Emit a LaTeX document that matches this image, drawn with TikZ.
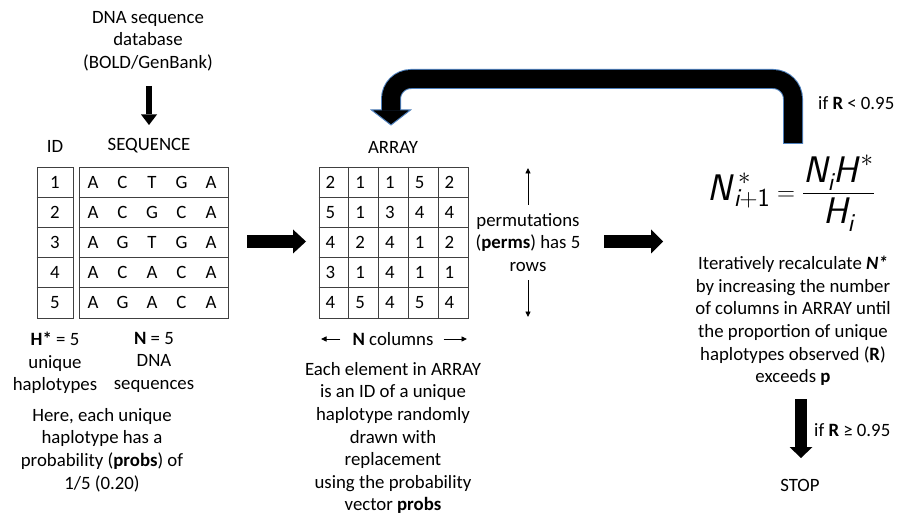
\documentclass[tikz,border=0pt]{standalone}
\usepackage{amsmath}
\usepackage{fontspec}
\setmainfont{Carlito}
\usetikzlibrary{arrows.meta,calc}
\definecolor{edgeblue}{RGB}{79,129,189}
\newcommand{\sfi}[1]{\text{\sffamily\itshape #1}}
\newcommand{\sfic}[1]{\text{\sffamily\itshape #1\/}}
\newcommand{\sfu}[1]{\text{\sffamily #1}}
\begin{document}
\begin{tikzpicture}[x=1pt,y=-1pt,
  txt/.style={font=\fontsize{18.8}{22.6}\selectfont, inner sep=0pt, align=center},
  cell/.style={font=\fontsize{18.8}{22.6}\selectfont, inner sep=0pt},
  gridline/.style={draw=black!75, line width=0.9pt},
  frame/.style={gridline, inner sep=0pt},
  thinarrow/.style={line width=0.9pt, -{Triangle[length=5.5pt,width=5pt]}},
  shaft/.style={draw=black, line cap=butt}
]
\useasboundingbox (0,0) rectangle (898,516);

% ---------- source text and top arrow ----------
\node[txt, anchor=north] (db) at (148,11) {DNA sequence\\database\\(BOLD/GenBank)};
\coordinate (dA) at (149,86);
\coordinate (dT) at (149,125);
\draw[shaft, line width=6.3] (dA) -- ($(dT)+(0,-10.5)$);
\fill (dT) -- ++(-8,-10.5) -- ++(16,0) -- cycle;

% ---------- ID table ----------
\node[cell] (idlab) at (55,146) {ID};
\node[frame, minimum width=36pt, minimum height=151pt] (idtab) at (55,242.5) {};
\foreach \k in {1,...,4} \draw[gridline] (idtab.west |- 0,{167+30.2*\k}) -- (idtab.east |- 0,{167+30.2*\k});
\foreach \v [count=\i] in {1,...,5} \node[cell] (id\i) at (55,{151.9+30.2*\i}) {\v};

% ---------- sequence table ----------
\node[cell] (seqlab) at (149,146) {SEQUENCE};
\node[frame, minimum width=149pt, minimum height=151pt] (seqtab) at (153.5,242.5) {};
\foreach \k in {1,...,4} \draw[gridline] (seqtab.west |- 0,{167+30.2*\k}) -- (seqtab.east |- 0,{167+30.2*\k});
\foreach \row [count=\r] in {{A,C,T,G,A},{A,C,G,C,A},{A,G,T,G,A},{A,C,A,C,A},{A,G,A,C,A}}{
  \foreach \l [count=\c] in \row {
    \node[cell] (s\r-\c) at ({63.5+29.5*\c},{151.9+30.2*\r}) {\l};
  }
}

% ---------- notes under tables ----------
\node[txt, anchor=north] (hstar) at (55,332) {\textbf{H*} = 5\\unique\\haplotypes};
\node[txt, anchor=north] (nseq) at (154,332) {\textbf{N} = 5\\DNA\\sequences};
\node[txt, anchor=north] (probs) at (102,408) {Here, each unique\\haplotype has a\\probability (\textbf{probs}) of\\1/5 (0.20)};

% ---------- arrow 1 ----------
\coordinate (r1s) at (247,241.5);
\coordinate (r1t) at (306,241.5);
\draw[shaft, line width=13] (r1s) -- ($(r1t)+(-12.5,0)$);
\fill (r1t) -- ++(-13,-12) -- ++(0,24) -- cycle;

% ---------- ARRAY ----------
\node[cell] (arrlab) at (393,147) {ARRAY};
\node[frame, minimum width=149pt, minimum height=151pt] (arrtab) at (393.5,242.5) {};
\foreach \k in {1,...,4} {
  \draw[gridline] (arrtab.west |- 0,{167+30.2*\k}) -- (arrtab.east |- 0,{167+30.2*\k});
  \draw[gridline] ({319+29.8*\k},0 |- arrtab.north) -- ({319+29.8*\k},0 |- arrtab.south);
}
\foreach \row [count=\r] in {{2,1,1,5,2},{5,1,3,4,4},{4,2,4,1,2},{3,1,4,1,1},{4,5,4,5,4}}{
  \foreach \v [count=\c] in \row {
    \node[cell] (a\r-\c) at ({300.5+29.8*\c},{151.9+30.2*\r}) {\v};
  }
}
\node[cell] (ncol) at (393,339) {\textbf{N} columns};
\coordinate (nL) at (321,339);
\coordinate (nR) at (467,339);
\draw[thinarrow] ([xshift=-12pt]ncol.west) -- (nL);
\draw[thinarrow] ([xshift=10pt]ncol.east) -- (nR);

\node[txt, anchor=north] (perms) at (528,213) {permutations\\(\textbf{perms}) has 5\\rows};
\coordinate (pU0) at (528,205);
\coordinate (pU) at (528,168);
\coordinate (pD0) at (528,280);
\coordinate (pD) at (528,317);
\draw[thinarrow] (pU0) -- (pU);
\draw[thinarrow] (pD0) -- (pD);

\node[txt, anchor=north] (elem) at (393,362) {Each element in ARRAY\\is an ID of a unique\\haplotype randomly\\drawn with\\replacement\\using the probability\\vector \textbf{probs}};

% ---------- arrow 2 ----------
\coordinate (r2s) at (604,241.5);
\coordinate (r2t) at (663,241.5);
\draw[shaft, line width=13] (r2s) -- ($(r2t)+(-11.5,0)$);
\fill (r2t) -- ++(-12,-12) -- ++(0,24) -- cycle;

% ---------- formula and text ----------
\node[inner sep=0pt, font=\fontsize{37}{44}\selectfont] (form) at (791,193)
  {$\sfic{N}^{\,*}_{\sfi{i}+\sfu{1}} = \dfrac{\sfi{N}_{\sfi{i}}\sfic{H}^{*}}{\sfi{H}_{\sfi{i}}}$};
\node[txt, anchor=north] (iter) at (793,256) {Iteratively recalculate \textbf{\textit{N*}}\\by increasing the number\\of columns in ARRAY until\\the proportion of unique\\haplotypes observed (\textbf{R})\\exceeds \textbf{p}};

\node[cell, anchor=west] (ifless) at (818,103) {if \textbf{R} < 0.95};
\node[cell, anchor=west] (ifge) at (814,430) {if \textbf{R} ≥ 0.95};
\node[cell] (stop) at (800,485) {STOP};

% ---------- down arrow to STOP ----------
\coordinate (bA) at (801,399);
\coordinate (bT) at (801,458);
\draw[shaft, line width=12] (bA) -- ($(bT)+(0,-10.5)$);
\fill (bT) -- ++(-11.5,-11) -- ++(23,0) -- cycle;

% ---------- feedback arrow ----------
\coordinate (fbS) at (793,143);
\coordinate (fbC) at (391,79);
\coordinate (fbH) at (391,110);
\coordinate (fbT) at (391,125);
\draw[draw=edgeblue, line width=20, rounded corners=20] ($(fbS)+(0,1)$) |- (fbC) -- (fbH);
\filldraw[fill=black, draw=edgeblue, line width=1] ($(fbH)+(-19.5,0)$) -- (fbT) -- ($(fbH)+(19.5,0)$) -- cycle;
\draw[draw=black, line width=18, rounded corners=20] (fbS) |- (fbC) -- ($(fbH)+(0,0.6)$);
\end{tikzpicture}
\end{document}
